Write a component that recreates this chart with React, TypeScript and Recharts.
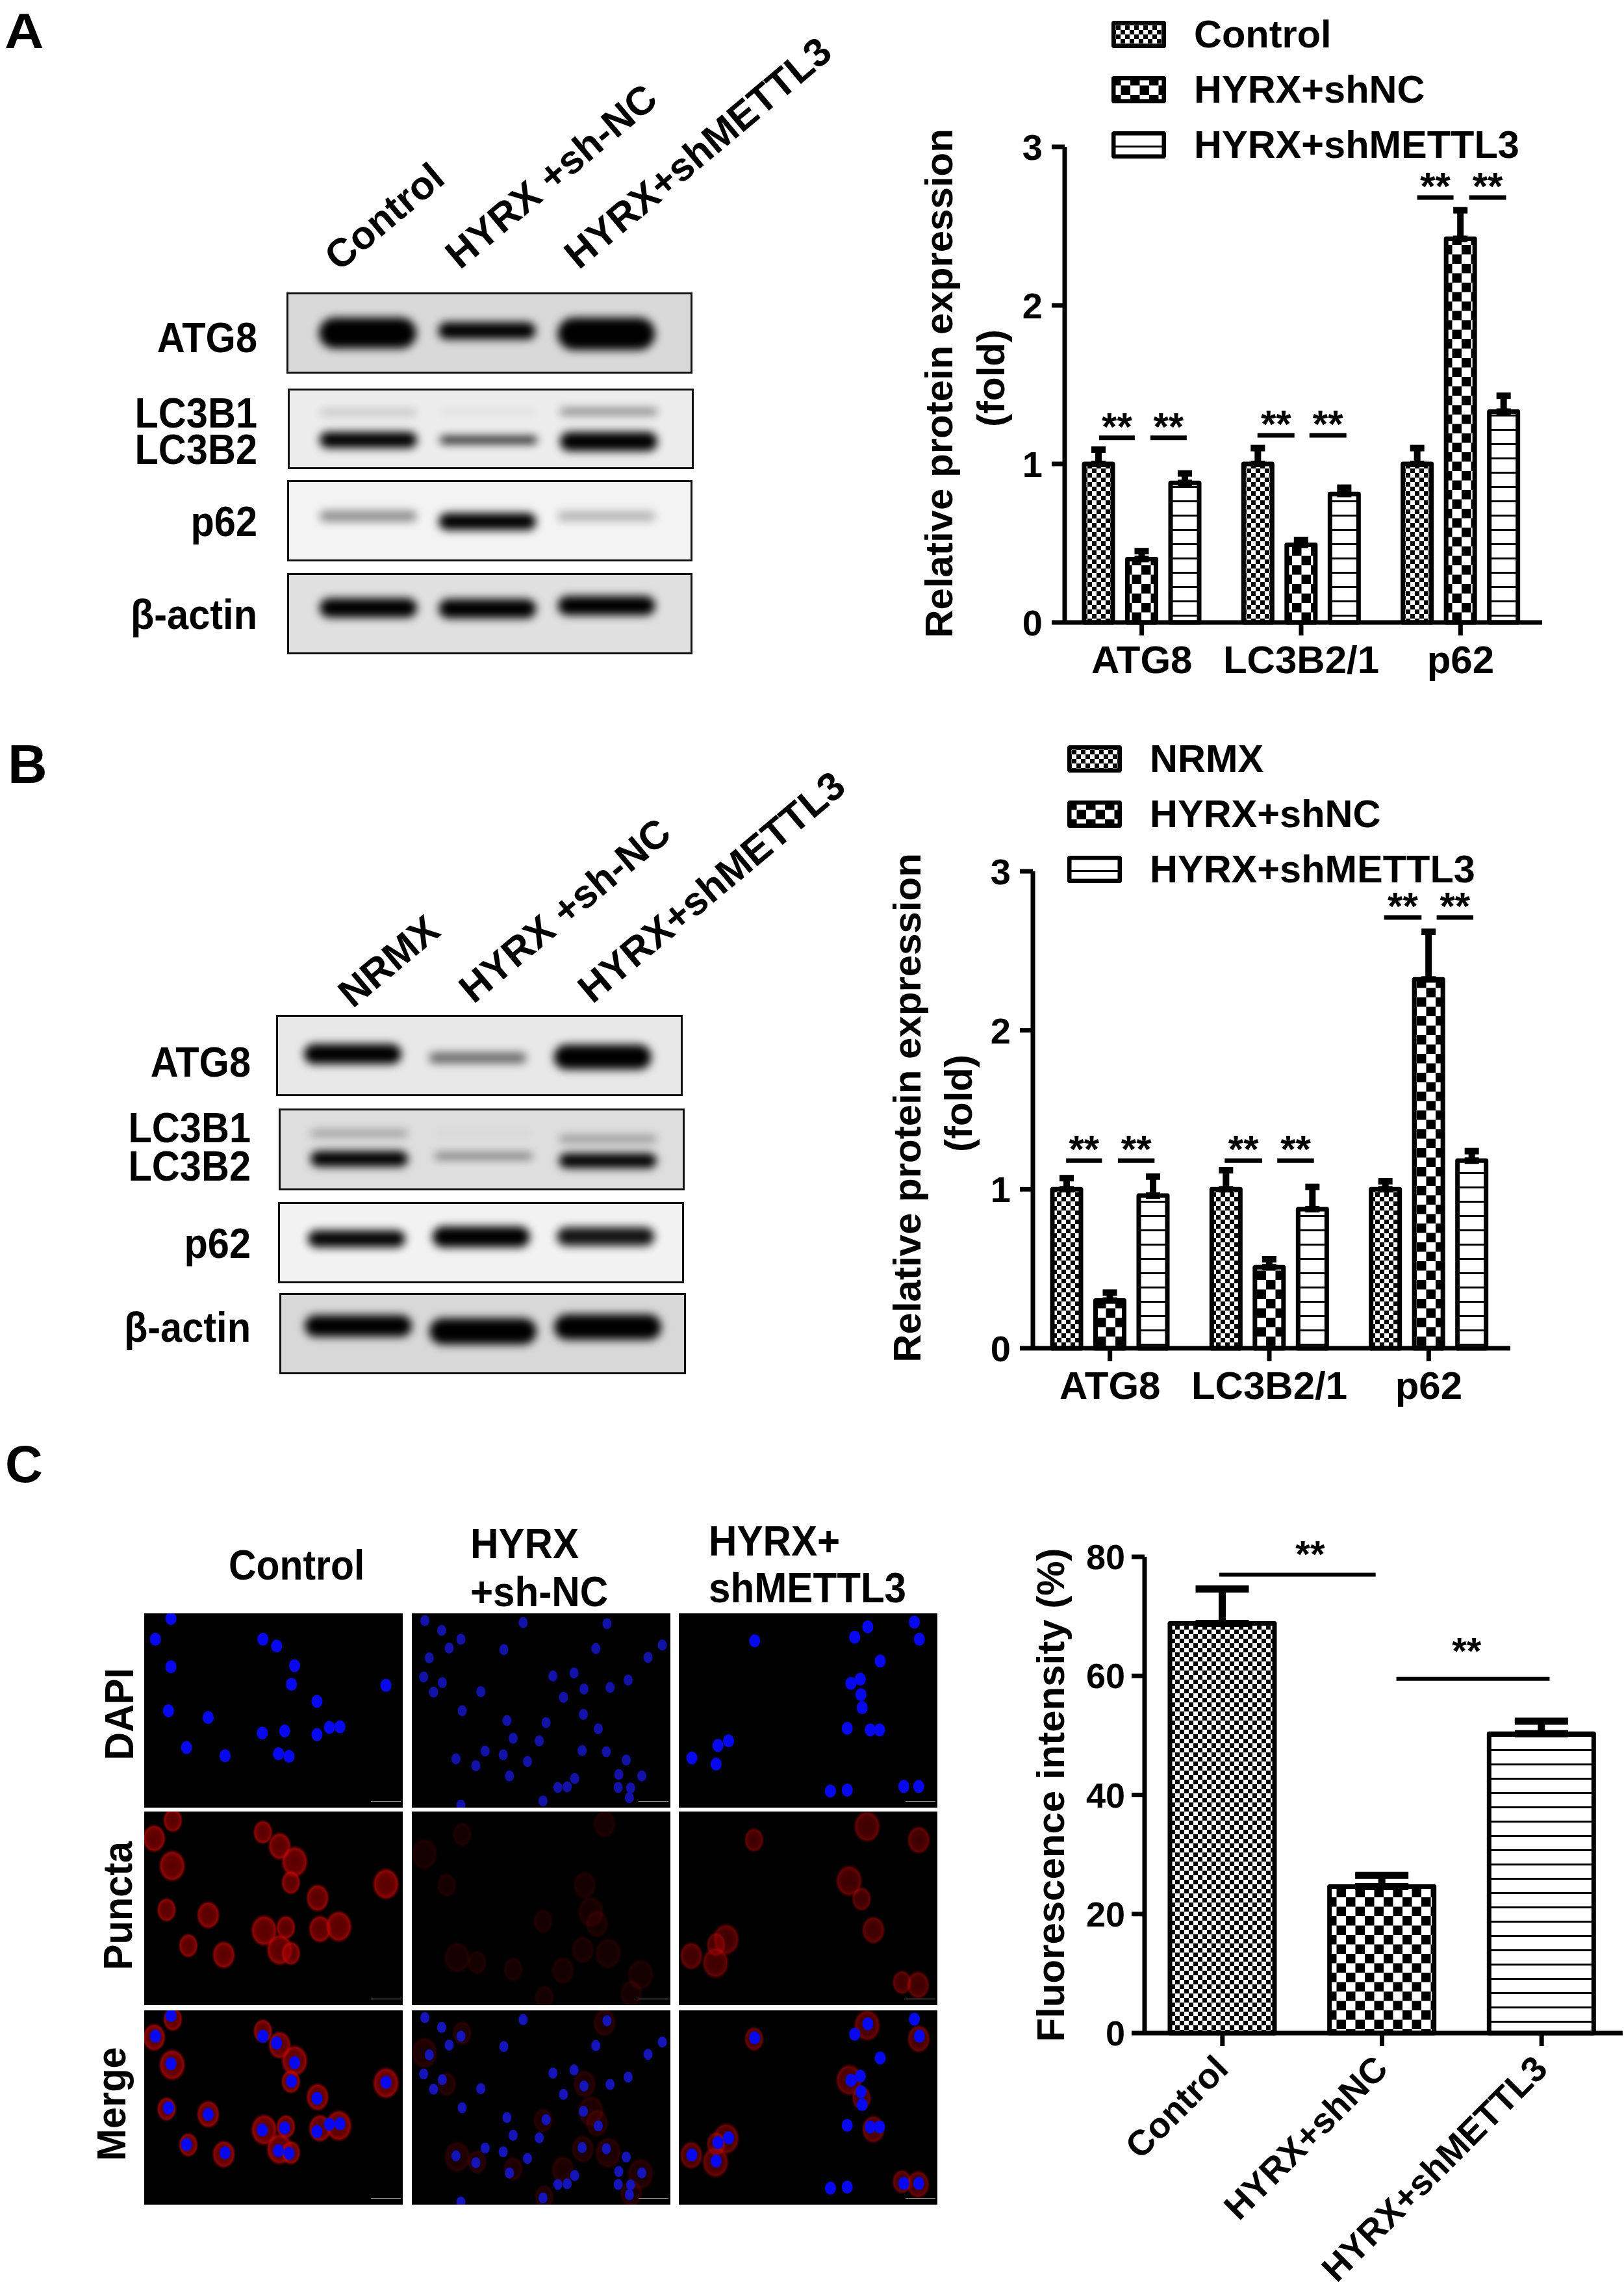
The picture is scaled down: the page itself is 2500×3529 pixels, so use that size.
import React from 'react'
import {
  Bar,
  BarChart,
  ErrorBar,
  Legend,
  ReferenceDot,
  ReferenceLine,
  Scatter,
  ScatterChart,
  XAxis,
  YAxis
} from 'recharts'

const FONT = '"Liberation Sans", Arial, sans-serif'

// panel A + B bar charts
const groups = ['ATG8', 'LC3B2/1', 'p62']
const seriesNamesA = ['Control', 'HYRX+shNC', 'HYRX+shMETTL3']
const seriesNamesB = ['NRMX', 'HYRX+shNC', 'HYRX+shMETTL3']
const foldTicks = [0, 1, 2, 3]

const controlA = [1.0, 1.0, 1.0]
const shNCA = [0.4, 0.49, 2.42]
const shMettlA = [0.88, 0.81, 1.33]
const controlErrA = [0.09, 0.1, 0.1]
const shNCErrA = [0.05, 0.03, 0.18]
const shMettlErrA = [0.06, 0.04, 0.1]

const controlB = [1.0, 1.0, 1.0]
const shNCB = [0.3, 0.51, 2.32]
const shMettlB = [0.96, 0.875, 1.18]
const controlErrB = [0.07, 0.12, 0.05]
const shNCErrB = [0.05, 0.05, 0.3]
const shMettlErrB = [0.12, 0.14, 0.06]

// significance marks: x in group units (0-3), y in fold
const sigA = [
  { x1: 0.232, x2: 0.456, y: 1.165 },
  { x1: 0.554, x2: 0.782, y: 1.165 },
  { x1: 1.226, x2: 1.458, y: 1.18 },
  { x1: 1.552, x2: 1.784, y: 1.18 },
  { x1: 2.228, x2: 2.456, y: 2.68 },
  { x1: 2.554, x2: 2.786, y: 2.68 }
]
const sigB = [
  { x1: 0.225, x2: 0.45, y: 1.18 },
  { x1: 0.55, x2: 0.78, y: 1.18 },
  { x1: 1.22, x2: 1.455, y: 1.18 },
  { x1: 1.55, x2: 1.78, y: 1.18 },
  { x1: 2.22, x2: 2.455, y: 2.71 },
  { x1: 2.55, x2: 2.78, y: 2.71 }
]

// panel C bars
const groupsC = ['Control', 'HYRX+shNC', 'HYRX+shMETTL3']
const intensity = [68.8, 24.6, 50.3]
const intensityErr = [5.8, 1.9, 2.1]
const intensityTicks = [0, 20, 40, 60, 80]
const sigC = [
  { x1: 0.48, x2: 1.46, y: 77, sx: 1.05, sy: 80.5 },
  { x1: 1.59, x2: 2.55, y: 59.5, sx: 2.03, sy: 64.2 }
]

// blots: band spans read as percent of the box height
const lanesA = ['Control', 'HYRX +sh-NC', 'HYRX+shMETTL3']
const lanesB = ['NRMX', 'HYRX +sh-NC', 'HYRX+shMETTL3']
const atg8BandA = [[30, 70], [36, 58], [30, 72]]
const atg8ShadeA = [1, 1, 1]
const lc3MainA = [[54, 75], [60, 69], [54, 79]]
const lc3MainShadeA = [1, 0.95, 1]
const lc3UpperA = [[24, 33], [25, 32], [23, 32]]
const lc3UpperShadeA = [0.16, 0.05, 0.45]
const p62BandA = [[37, 51], [40, 62], [38, 50]]
const p62ShadeA = [0.42, 1, 0.28]
const actinBandA = [[30, 55], [31, 56], [27, 52]]
const actinShadeA = [1, 1, 1]

const atg8BandB = [[35, 61], [46, 60], [36, 68]]
const atg8ShadeB = [1, 0.55, 1]
const lc3MainB = [[52, 72], [55, 62], [55, 74]]
const lc3MainShadeB = [1, 0.55, 1]
const lc3UpperB = [[25, 34], [26, 32], [32, 41]]
const lc3UpperShadeB = [0.3, 0.03, 0.35]
const p62BandB = [[34, 56], [29, 56], [30, 54]]
const p62ShadeB = [0.98, 1, 0.92]
const actinBandB = [[26, 54], [30, 64], [25, 58]]
const actinShadeB = [1, 1, 1]

// microscope fields, cell positions
const nucleiControl = [[275, 365], [250, 405], [423, 405], [445, 418], [275, 458], [474, 456], [469, 492], [621, 494], [510, 525], [271, 543], [335, 556], [422, 586], [458, 582], [510, 589], [530, 575], [547, 574], [300, 614], [362, 630], [448, 626], [465, 631]]
const nucleiShNC = [[683, 369], [710, 388], [841, 373], [976, 375], [741, 405], [722, 422], [958, 423], [690, 441], [1065, 416], [1042, 440], [810, 425], [681, 478], [711, 489], [697, 507], [773, 506], [889, 476], [923, 470], [939, 501], [981, 498], [1010, 484], [906, 517], [743, 543], [938, 550], [878, 566], [815, 562], [962, 578], [825, 596], [867, 601], [936, 620], [975, 622], [733, 636], [780, 621], [809, 628], [848, 641], [765, 649], [819, 669], [1007, 638], [995, 666], [1032, 669], [924, 674], [912, 690], [897, 691], [994, 691], [1014, 692], [1012, 711], [873, 717], [741, 725]]
const nucleiShMettl = [[1214, 408], [1375, 401], [1396, 381], [1471, 372], [1479, 405], [1416, 447], [1369, 490], [1384, 482], [1385, 512], [1387, 537], [1363, 577], [1400, 580], [1415, 580], [1172, 601], [1155, 610], [1113, 634], [1152, 646], [1336, 698], [1363, 696], [1454, 689], [1478, 689]]
const punctaControl = [[278, 755], [248, 790], [277, 843], [423, 778], [450, 805], [474, 835], [468, 875], [511, 905], [621, 878], [268, 928], [335, 938], [425, 968], [460, 962], [515, 965], [545, 960], [303, 997], [360, 1015], [450, 1005], [468, 1012]]
const punctaShNC = [[743, 782], [972, 762], [682, 820], [718, 880], [940, 880], [950, 932], [873, 950], [960, 955], [735, 1020], [767, 1030], [937, 1005], [978, 1012], [825, 1043], [905, 1045], [1030, 1053], [875, 1097], [1015, 1090]]
const punctaShMettl = [[1213, 793], [1478, 793], [1366, 872], [1386, 907], [1405, 967], [1168, 985], [1152, 995], [1112, 1017], [1151, 1030], [1451, 1068], [1477, 1073], [1395, 767]]

const pts = (list: number[][]) => list.map(([x, y]) => ({ x, y }))

const fillFine = 'url(#fineCheck)'
const fillWide = 'url(#wideCheck)'
const fillLines = 'url(#hLines)'

const PageDefs = () => (
  <svg width={0} height={0} style={{ position: 'absolute' }}>
    <defs>
      <pattern id="fineCheck" width={14} height={14} patternUnits="userSpaceOnUse">
        <rect width={14} height={14} fill="#fff" />
        <rect width={7} height={7} fill="#000" />
        <rect x={7} y={7} width={7} height={7} fill="#000" />
      </pattern>
      <pattern id="wideCheck" width={29} height={29} patternUnits="userSpaceOnUse">
        <rect width={29} height={29} fill="#fff" />
        <rect width={14.5} height={14.5} fill="#000" />
        <rect x={14.5} y={14.5} width={14.5} height={14.5} fill="#000" />
      </pattern>
      <pattern id="hLines" width={22} height={22} patternUnits="userSpaceOnUse">
        <rect width={22} height={22} fill="#fff" />
        <rect y={0} width={22} height={3} fill="#000" />
      </pattern>
      <filter id="bandBlur" x="-20%" y="-150%" width="140%" height="400%">
        <feGaussianBlur stdDeviation={7} />
      </filter>
      <radialGradient id="cellRed">
        <stop offset="0%" stopColor="#a00000" stopOpacity={0.55} />
        <stop offset="55%" stopColor="#a80000" stopOpacity={0.6} />
        <stop offset="78%" stopColor="#c80808" stopOpacity={0.7} />
        <stop offset="100%" stopColor="#600000" stopOpacity={0} />
      </radialGradient>
    </defs>
  </svg>
)

const Label2 = ({ viewBox, lines }: any) => {
  const cy = viewBox.y + viewBox.height / 2
  return (
    <g>
      {lines.map((l: any) => (
        <text
          key={l.text}
          transform={`translate(${l.x},${cy + l.dy}) rotate(-90)`}
          textAnchor="middle"
          dominantBaseline="central"
          fontFamily={FONT}
          fontWeight={700}
          fontSize={60}
          fill="#000"
        >
          {l.text}
        </text>
      ))}
    </g>
  )
}

const SwatchLegend = ({ names, fills }: any) => (
  <div style={{ fontFamily: FONT, fontWeight: 700, fontSize: 59.5, color: '#000' }}>
    {names.map((n: string, i: number) => (
      <div key={n} style={{ height: 85, display: 'flex', alignItems: 'center', whiteSpace: 'nowrap' }}>
        <svg width={84} height={42} style={{ marginRight: 43 }}>
          <rect x={3} y={3} width={78} height={36} fill={fills[i]} stroke="#000" strokeWidth={7} rx={2} />
        </svg>
        {n}
      </div>
    ))}
  </div>
)

const axisStroke = { stroke: '#000', strokeWidth: 7 }
const tickFont = { fontFamily: FONT, fontWeight: 700, fill: '#000' }

const GroupedBars = ({ frame, margin, yWidth, names, legendPos, values, errs, sig, lines }: any) => {
  const rows = groups.map((group, i) => ({
    group,
    pos: i + 0.5,
    a: values[0][i],
    b: values[1][i],
    c: values[2][i],
    aErr: [0, errs[0][i]],
    bErr: [0, errs[1][i]],
    cErr: [0, errs[2][i]]
  }))
  const fills = [fillFine, fillWide, fillLines]
  return (
    <div style={{ position: 'absolute', ...frame }}>
      <BarChart width={frame.width} height={frame.height} data={rows} margin={margin} barSize={44} barGap={22.5}>
        <XAxis
          dataKey="group"
          interval={0}
          height={100}
          padding={{ left: -4, right: 3 }}
          axisLine={axisStroke}
          tickLine={axisStroke}
          tickSize={20}
          tickMargin={15}
          tick={{ ...tickFont, fontSize: 60 }}
        />
        <XAxis xAxisId="sig" dataKey="pos" type="number" domain={[0, 3]} hide allowDataOverflow padding={{ left: -4, right: 3 }} />
        <YAxis
          width={yWidth}
          domain={[0, 3]}
          ticks={foldTicks}
          axisLine={axisStroke}
          tickLine={axisStroke}
          tickSize={20}
          tickMargin={14}
          tick={{ ...tickFont, fontSize: 56 }}
          label={<Label2 lines={lines} />}
        />
        {['a', 'b', 'c'].map((k, i) => (
          <Bar
            key={k}
            dataKey={k}
            name={names[i]}
            fill={fills[i]}
            stroke="#000"
            strokeWidth={7}
            strokeLinejoin="round"
            isAnimationActive={false}
          >
            <ErrorBar dataKey={`${k}Err`} direction="y" width={11} strokeWidth={10} stroke="#000" isAnimationActive={false} />
          </Bar>
        ))}
        {sig.map((s: any) => (
          <ReferenceLine
            key={`${s.x1}`}
            xAxisId="sig"
            segment={[{ x: s.x1, y: s.y }, { x: s.x2, y: s.y }]}
            stroke="#000"
            strokeWidth={7}
          />
        ))}
        {sig.map((s: any) => (
          <ReferenceDot
            key={`star${s.x1}`}
            xAxisId="sig"
            x={(s.x1 + s.x2) / 2}
            y={s.y + 0.075}
            r={0}
            fill="none"
            stroke="none"
            label={{ value: '**', position: 'center', fontFamily: FONT, fontWeight: 700, fontSize: 60, fill: '#000' }}
          />
        ))}
        <Legend
          layout="vertical"
          align="center"
          verticalAlign="middle"
          wrapperStyle={legendPos}
          content={<SwatchLegend names={names} fills={fills} />}
        />
      </BarChart>
    </div>
  )
}

const IntensityBars = () => {
  const rows = groupsC.map((group, i) => ({ group, pos: i + 0.5, value: intensity[i], err: [0, intensityErr[i]] }))
  const cellFills = [fillFine, fillWide, fillLines]
  return (
    <div style={{ position: 'absolute', left: 1550, top: 2340, width: 950, height: 1189 }}>
      <BarChart width={950} height={1189} data={rows} margin={{ top: 56, right: 2, bottom: 20, left: 0 }} barSize={161}>
        <XAxis
          dataKey="group"
          interval={0}
          height={380}
          padding={{ left: -3, right: 2 }}
          axisLine={axisStroke}
          tickLine={axisStroke}
          tickSize={20}
          tickMargin={12}
          tick={(p: any) => (
            <text
              transform={`translate(${p.x + 12},${p.y + 26}) rotate(-45)`}
              textAnchor="end"
              fontFamily={FONT}
              fontWeight={700}
              fontSize={55}
              fill="#000"
            >
              {p.payload.value}
            </text>
          )}
        />
        <XAxis xAxisId="sig" dataKey="pos" type="number" domain={[0, 3]} hide allowDataOverflow padding={{ left: -3, right: 2 }} />
        <YAxis
          width={212}
          domain={[0, 80]}
          ticks={intensityTicks}
          axisLine={axisStroke}
          tickLine={axisStroke}
          tickSize={20}
          tickMargin={10}
          tick={{ ...tickFont, fontSize: 54 }}
          label={<Label2 lines={[{ text: 'Fluorescence intensity (%)', x: 67, dy: 0 }]} />}
        />
        <Bar
          dataKey="value"
          stroke="#000"
          strokeWidth={7}
          strokeLinejoin="round"
          isAnimationActive={false}
          shape={(p: any) => (
            <rect
              x={p.x}
              y={p.y}
              width={p.width}
              height={p.height}
              fill={cellFills[p.index]}
              stroke="#000"
              strokeWidth={7}
              strokeLinejoin="round"
            />
          )}
        >
          <ErrorBar dataKey="err" direction="y" width={41} strokeWidth={11} stroke="#000" isAnimationActive={false} />
        </Bar>
        {sigC.map((s) => (
          <ReferenceLine
            key={s.x1}
            xAxisId="sig"
            segment={[{ x: s.x1, y: s.y }, { x: s.x2, y: s.y }]}
            stroke="#000"
            strokeWidth={6}
          />
        ))}
        {sigC.map((s) => (
          <ReferenceDot
            key={`star${s.x1}`}
            xAxisId="sig"
            x={s.sx}
            y={s.sy}
            r={0}
            fill="none"
            stroke="none"
            ifOverflow="visible"
            label={{ value: '**', position: 'center', fontFamily: FONT, fontWeight: 700, fontSize: 58, fill: '#000' }}
          />
        ))}
      </BarChart>
    </div>
  )
}

const BandShape = (shadeKey: string) => (p: any) => {
  const top = Math.min(p.y, p.y + p.height)
  const h = Math.abs(p.height)
  return (
    <rect
      x={p.x}
      y={top}
      width={p.width}
      height={h}
      rx={h / 2}
      fill="#000"
      opacity={p.payload[shadeKey]}
      filter="url(#bandBlur)"
    />
  )
}

const Blot = ({ box, bg, lanes, band, shade, upper, upperShade, pad, size = 150 }: any) => {
  const rows = lanes.map((lane: string, i: number) => ({
    lane,
    band: band[i],
    shade: shade[i],
    upper: upper ? upper[i] : undefined,
    upperShade: upperShade ? upperShade[i] : 0
  }))
  return (
    <div
      style={{
        position: 'absolute',
        left: box[0],
        top: box[1],
        width: box[2] - box[0],
        height: box[3] - box[1],
        background: bg,
        boxSizing: 'border-box',
        border: '3px solid #111',
        overflow: 'hidden'
      }}
    >
      <BarChart
        width={box[2] - box[0] - 6}
        height={box[3] - box[1] - 6}
        data={rows}
        margin={{ top: 0, right: 0, bottom: 0, left: 0 }}
        barSize={size}
        barGap={-size}
      >
        <XAxis dataKey="lane" hide padding={pad} />
        <YAxis hide reversed domain={[0, 100]} />
        {upper && (
          <Bar dataKey="upper" shape={BandShape('upperShade')} isAnimationActive={false} />
        )}
        <Bar dataKey="band" shape={BandShape('shade')} isAnimationActive={false} />
      </BarChart>
    </div>
  )
}

const Field = ({ rect, xDomain, nuclei, puncta, redLevel = 1, blue = '#0808f0', r = 8.5 }: any) => (
  <div style={{ position: 'absolute', left: rect[0], top: rect[1], width: rect[2] - rect[0], height: rect[3] - rect[1], background: '#000' }}>
    <ScatterChart width={rect[2] - rect[0]} height={rect[3] - rect[1]} margin={{ top: 0, right: 0, bottom: 0, left: 0 }}>
      <XAxis type="number" dataKey="x" domain={xDomain} hide />
      <YAxis yAxisId="blue" type="number" dataKey="y" domain={[355, 730]} reversed hide />
      <YAxis yAxisId="red" type="number" dataKey="y" domain={[738, 1112]} reversed hide />
      {puncta && (
        <Scatter
          yAxisId="red"
          data={pts(puncta)}
          isAnimationActive={false}
          shape={(p: any) => {
            const grow = (p.index ?? 0) % 3
            return <ellipse cx={p.cx} cy={p.cy} rx={16 + grow * 3} ry={20 + grow * 3} fill="url(#cellRed)" opacity={redLevel} />
          }}
        />
      )}
      {nuclei && (
        <Scatter
          yAxisId="blue"
          data={pts(nuclei)}
          isAnimationActive={false}
          shape={(p: any) => <ellipse cx={p.cx} cy={p.cy} rx={r} ry={r + 1.5} fill={blue} />}
        />
      )}
    </ScatterChart>
    <div style={{ position: 'absolute', right: 3, bottom: 9, width: 46, height: 1, background: '#8a8a8a' }} />
  </div>
)

const T = ({ x, y, size = 64, sx = 0.93, rot = 0, anchor = 'start', children }: any) => (
  <text
    transform={`translate(${x},${y}) rotate(${rot}) scale(${sx},1)`}
    textAnchor={anchor}
    fontFamily={FONT}
    fontWeight={700}
    fontSize={size}
    fill="#000"
  >
    {children}
  </text>
)

const Annotations = () => (
  <svg width={2500} height={3529} style={{ position: 'absolute', left: 0, top: 0, pointerEvents: 'none' }}>
    <T x={7} y={74} size={76} sx={1.1}>A</T>
    <T x={12} y={1205} size={84} sx={1}>B</T>
    <T x={8} y={2281} size={80} sx={1}>C</T>

    <T x={522} y={419} size={61} sx={1} rot={-40}>Control</T>
    <T x={708} y={416} size={61} sx={1} rot={-40}>HYRX +sh-NC</T>
    <T x={891} y={416} size={61} sx={1} rot={-40}>HYRX+shMETTL3</T>
    <T x={396} y={542} anchor="end">ATG8</T>
    <T x={396} y={658} anchor="end">LC3B1</T>
    <T x={396} y={714} anchor="end">LC3B2</T>
    <T x={396} y={825} anchor="end">p62</T>
    <T x={396} y={968} anchor="end">β-actin</T>

    <T x={543} y={1553} size={61} sx={1} rot={-40}>NRMX</T>
    <T x={729} y={1546} size={61} sx={1} rot={-40}>HYRX +sh-NC</T>
    <T x={912} y={1546} size={61} sx={1} rot={-40}>HYRX+shMETTL3</T>
    <T x={386} y={1657} anchor="end">ATG8</T>
    <T x={386} y={1758} anchor="end">LC3B1</T>
    <T x={386} y={1817} anchor="end">LC3B2</T>
    <T x={386} y={1936} anchor="end">p62</T>
    <T x={386} y={2065} anchor="end">β-actin</T>

    <T x={352} y={2431} size={64} sx={0.92}>Control</T>
    <T x={724} y={2398} size={64} sx={0.94}>HYRX</T>
    <T x={724} y={2472} size={64} sx={0.94}>+sh-NC</T>
    <T x={1091} y={2394} size={64} sx={0.94}>HYRX+</T>
    <T x={1091} y={2466} size={64} sx={0.94}>shMETTL3</T>
    <T x={205} y={2638} size={62} sx={0.96} rot={-90} anchor="middle">DAPI</T>
    <T x={203} y={2933} size={62} sx={0.96} rot={-90} anchor="middle">Puncta</T>
    <T x={193} y={3238} size={62} sx={0.96} rot={-90} anchor="middle">Merge</T>
  </svg>
)

export default function App() {
  return (
    <div style={{ position: 'absolute', left: 0, top: 0, width: 2500, height: 3529, background: '#fff', overflow: 'hidden' }}>
      <PageDefs />

      <Blot box={[441, 450, 1066, 575]} bg="#d9d9d9" lanes={lanesA} band={atg8BandA} shade={atg8ShadeA} pad={{ left: 30, right: 38 }} />
      <Blot box={[443, 598, 1068, 722]} bg="#ececec" lanes={lanesA} band={lc3MainA} shade={lc3MainShadeA} upper={lc3UpperA} upperShade={lc3UpperShadeA} pad={{ left: 28, right: 36 }} />
      <Blot box={[442, 739, 1066, 864]} bg="#f3f3f3" lanes={lanesA} band={p62BandA} shade={p62ShadeA} pad={{ left: 30, right: 38 }} />
      <Blot box={[442, 882, 1066, 1007]} bg="#e0e0e0" lanes={lanesA} band={actinBandA} shade={actinShadeA} pad={{ left: 30, right: 38 }} />

      <Blot box={[425, 1562, 1051, 1687]} bg="#e8e8e8" lanes={lanesB} band={atg8BandB} shade={atg8ShadeB} pad={{ left: 19, right: 24 }} size={150} />
      <Blot box={[429, 1706, 1054, 1832]} bg="#dedede" lanes={lanesB} band={lc3MainB} shade={lc3MainShadeB} upper={lc3UpperB} upperShade={lc3UpperShadeB} pad={{ left: 25, right: 20 }} size={150} />
      <Blot box={[428, 1850, 1053, 1975]} bg="#f2f2f2" lanes={lanesB} band={p62BandB} shade={p62ShadeB} pad={{ left: 22, right: 22 }} size={150} />
      <Blot box={[430, 1990, 1056, 2115]} bg="#d8d8d8" lanes={lanesB} band={actinBandB} shade={actinShadeB} pad={{ left: 22, right: 22 }} size={165} />

      <GroupedBars
        frame={{ left: 1380, top: 0, width: 1080, height: 1100 }}
        margin={{ top: 226, right: 86, bottom: 42, left: 0 }}
        yWidth={259}
        names={seriesNamesA}
        legendPos={{ left: 331, top: 10 }}
        values={[controlA, shNCA, shMettlA]}
        errs={[controlErrA, shNCErrA, shMettlErrA]}
        sig={sigA}
        lines={[
          { text: 'Relative protein expression', x: 65, dy: -2 },
          { text: '(fold)', x: 145, dy: -10 }
        ]}
      />
      <GroupedBars
        frame={{ left: 1340, top: 1100, width: 1120, height: 1100 }}
        margin={{ top: 241, right: 135, bottom: 25, left: 0 }}
        yWidth={250}
        names={seriesNamesB}
        legendPos={{ left: 303, top: 25 }}
        values={[controlB, shNCB, shMettlB]}
        errs={[controlErrB, shNCErrB, shMettlErrB]}
        sig={sigB}
        lines={[
          { text: 'Relative protein expression', x: 56, dy: -3 },
          { text: '(fold)', x: 135, dy: -10 }
        ]}
      />

      <Field rect={[222, 2483, 620, 2782]} xDomain={[232, 648]} nuclei={nucleiControl} />
      <Field rect={[634, 2483, 1032, 2782]} xDomain={[662, 1078]} nuclei={nucleiShNC} blue="#1212a8" r={7} />
      <Field rect={[1045, 2483, 1443, 2782]} xDomain={[1092, 1508]} nuclei={nucleiShMettl} />
      <Field rect={[222, 2788, 620, 3086]} xDomain={[232, 648]} puncta={punctaControl} />
      <Field rect={[634, 2788, 1032, 3086]} xDomain={[662, 1078]} puncta={punctaShNC} redLevel={0.22} />
      <Field rect={[1045, 2788, 1443, 3086]} xDomain={[1092, 1508]} puncta={punctaShMettl} redLevel={0.7} />
      <Field rect={[222, 3094, 620, 3393]} xDomain={[232, 648]} nuclei={nucleiControl} puncta={punctaControl} />
      <Field rect={[634, 3094, 1032, 3393]} xDomain={[662, 1078]} nuclei={nucleiShNC} puncta={punctaShNC} redLevel={0.3} blue="#1414b8" r={7} />
      <Field rect={[1045, 3094, 1443, 3393]} xDomain={[1092, 1508]} nuclei={nucleiShMettl} puncta={punctaShMettl} redLevel={0.75} />

      <IntensityBars />
      <Annotations />
    </div>
  )
}
